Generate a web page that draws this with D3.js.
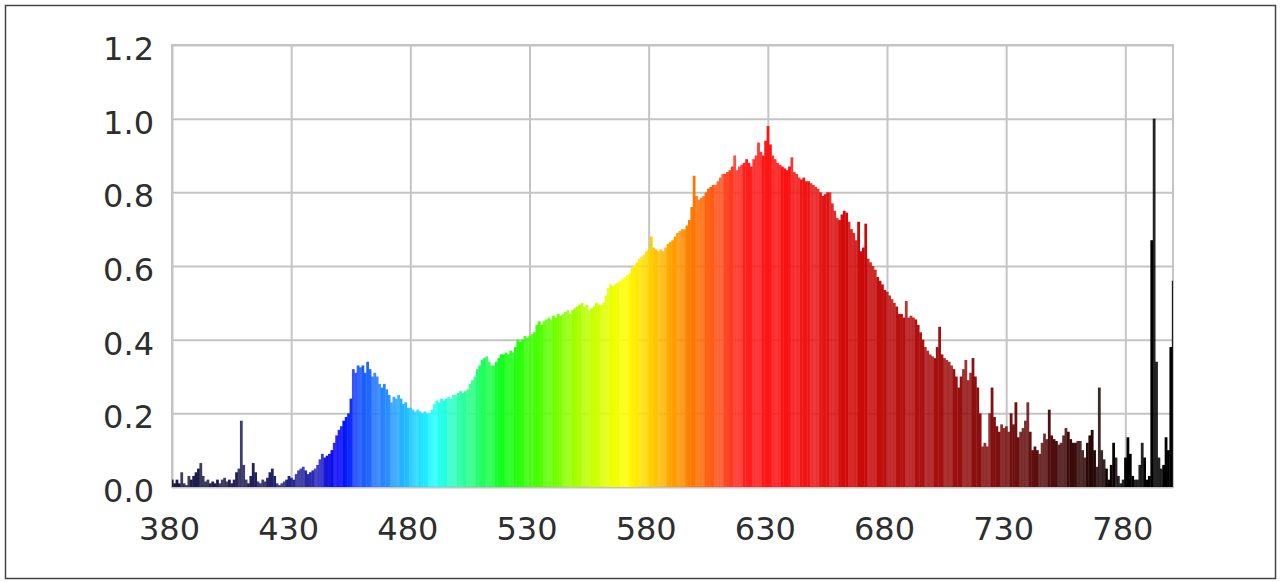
<!DOCTYPE html>
<html>
<head>
<meta charset="utf-8">
<script src="https://cdn.jsdelivr.net/npm/d3@7"></script>
<style>
  body { margin: 0; background: #fff; }
  svg { display: block; }
</style>
</head>
<body>
<svg id="chart" width="1281" height="582"></svg>
<script>
// wavelengths 380..800 nm, one value per nm
var startNm = 380;
var intensity = [
  0.02, 0.01, 0.02, 0.01, 0.04, 0.01, 0.005, 0.03, 0.02, 0.03,
  0.04, 0.05, 0.065, 0.03, 0.015, 0.02, 0.01, 0.015, 0.01, 0.02,
  0.01, 0.02, 0.025, 0.015, 0.02, 0.01, 0.02, 0.04, 0.05, 0.18,
  0.06, 0.02, 0.01, 0.03, 0.065, 0.04, 0.015, 0.01, 0.02, 0.015,
  0.025, 0.04, 0.05, 0.03, 0.01, 0.005, 0.01, 0.015, 0.02, 0.03,
  0.025, 0.02, 0.035, 0.045, 0.05, 0.055, 0.045, 0.035, 0.04, 0.045,
  0.05, 0.06, 0.075, 0.09, 0.08, 0.085, 0.09, 0.1, 0.12, 0.14,
  0.155, 0.165, 0.18, 0.19, 0.2, 0.24, 0.32, 0.31, 0.33, 0.325,
  0.33, 0.31, 0.34, 0.32, 0.30, 0.31, 0.30, 0.28, 0.27, 0.28,
  0.265, 0.25, 0.23, 0.245, 0.24, 0.25, 0.24, 0.225, 0.23, 0.215,
  0.215, 0.21, 0.205, 0.21, 0.205, 0.2, 0.205, 0.2, 0.2, 0.21,
  0.225, 0.235, 0.23, 0.24, 0.235, 0.24, 0.245, 0.24, 0.25, 0.25,
  0.255, 0.26, 0.255, 0.26, 0.265, 0.28, 0.29, 0.3, 0.32, 0.33,
  0.345, 0.35, 0.355, 0.34, 0.33, 0.33, 0.34, 0.35, 0.36, 0.36,
  0.365, 0.36, 0.37, 0.365, 0.38, 0.40, 0.395, 0.40, 0.41, 0.405,
  0.41, 0.415, 0.42, 0.44, 0.45, 0.44, 0.45, 0.455, 0.46, 0.455,
  0.465, 0.46, 0.47, 0.465, 0.47, 0.475, 0.48, 0.47, 0.48, 0.485,
  0.49, 0.495, 0.50, 0.49, 0.495, 0.48, 0.485, 0.49, 0.5, 0.495,
  0.495, 0.5, 0.52, 0.54, 0.55, 0.545, 0.55, 0.555, 0.56, 0.565,
  0.57, 0.575, 0.58, 0.595, 0.6, 0.61, 0.62, 0.625, 0.63, 0.64,
  0.645, 0.68, 0.65, 0.645, 0.64, 0.645, 0.64, 0.65, 0.66, 0.665,
  0.67, 0.68, 0.69, 0.695, 0.70, 0.70, 0.71, 0.725, 0.76, 0.845,
  0.79, 0.78, 0.785, 0.79, 0.8, 0.81, 0.815, 0.82, 0.82, 0.83,
  0.84, 0.85, 0.85, 0.855, 0.86, 0.87, 0.9, 0.86, 0.87, 0.875,
  0.88, 0.89, 0.88, 0.87, 0.89, 0.9, 0.935, 0.91, 0.9, 0.94,
  0.98, 0.93, 0.9, 0.89, 0.88, 0.875, 0.87, 0.865, 0.86, 0.87,
  0.895, 0.855, 0.85, 0.84, 0.835, 0.84, 0.83, 0.83, 0.825, 0.82,
  0.815, 0.81, 0.8, 0.79, 0.795, 0.8, 0.8, 0.77, 0.75, 0.73,
  0.725, 0.74, 0.75, 0.745, 0.72, 0.70, 0.69, 0.67, 0.72, 0.64,
  0.65, 0.715, 0.62, 0.61, 0.60, 0.59, 0.57, 0.56, 0.55, 0.535,
  0.53, 0.52, 0.51, 0.5, 0.49, 0.47, 0.47, 0.46, 0.505, 0.46,
  0.465, 0.46, 0.455, 0.44, 0.42, 0.40, 0.38, 0.37, 0.36, 0.355,
  0.35, 0.38, 0.435, 0.36, 0.35, 0.345, 0.34, 0.33, 0.32, 0.3,
  0.27, 0.3, 0.32, 0.345, 0.29, 0.31, 0.35, 0.3, 0.27, 0.2,
  0.11, 0.12, 0.11, 0.2, 0.27, 0.19, 0.165, 0.15, 0.17, 0.16,
  0.165, 0.15, 0.2, 0.17, 0.23, 0.135, 0.15, 0.16, 0.18, 0.23,
  0.15, 0.10, 0.11, 0.1, 0.09, 0.12, 0.145, 0.13, 0.21, 0.14,
  0.13, 0.125, 0.115, 0.12, 0.14, 0.16, 0.15, 0.13, 0.12, 0.12,
  0.125, 0.125, 0.1, 0.08, 0.12, 0.14, 0.155, 0.1, 0.055, 0.27,
  0.1, 0.075, 0.05, 0.02, 0.06, 0.12, 0.08, 0.03, 0.01, 0.02,
  0.08, 0.135, 0.09, 0.03, 0.02, 0.02, 0.06, 0.12, 0.08, 0.02,
  0.03, 0.67, 1.0, 0.34, 0.08, 0.05, 0.06, 0.135, 0.1, 0.38, 0.56
];
var xTicks = [380, 430, 480, 530, 580, 630, 680, 730, 780];
var yTicks = [0, 0.2, 0.4, 0.6, 0.8, 1.0, 1.2];

// wavelength -> bar colour
var colorNm = [380, 420, 440, 450, 460, 470, 480, 490, 500, 510, 520, 535, 550, 560, 570, 580, 590, 600, 610, 620, 635, 650, 665, 685, 705, 725, 745, 765, 780, 800];
var colorHex = ["#1c1c40", "#202060", "#2a2ab8", "#0000ff", "#1a5cff", "#2a8cff", "#20c8ff", "#20ffff", "#30ffb0", "#20ff60", "#10ff10", "#50ff00", "#a8ff00", "#d8ff00", "#ffff00", "#ffd200", "#ffa000", "#ff7000", "#ff5020", "#ff2020", "#ff1010", "#e81818", "#d00808", "#b81010", "#a01010", "#801010", "#581010", "#2a0808", "#000000", "#000000"];

(function() {
  var data = intensity.map(function(v, i) { return {nm: startNm + i, v: v}; });

  var svg = d3.select("#chart");
  var plotL = 172, plotR = 1173, plotT = 45, plotB = 487;

  var x = d3.scaleLinear().domain([380, 800]).range([plotL, plotR]);
  var y = d3.scaleLinear().domain([0, 1.2]).range([plotB, plotT]);
  var color = d3.scaleLinear().domain(colorNm).range(colorHex);

  // outer frame
  svg.append("rect")
      .attr("x", 5.5).attr("y", 5.5)
      .attr("width", 1270).attr("height", 573)
      .attr("fill", "#fff")
      .attr("stroke", "#444")
      .attr("stroke-width", 1.5);

  // grid + labels
  var xAxis = svg.append("g")
      .attr("transform", "translate(0," + plotB + ")")
      .call(d3.axisBottom(x).tickValues(xTicks).tickSize(-(plotB - plotT)).tickPadding(30).tickFormat(d3.format("d")));
  var yAxis = svg.append("g")
      .attr("transform", "translate(" + plotL + ",0)")
      .call(d3.axisLeft(y).tickValues(yTicks).tickSize(-(plotR - plotL)).tickPadding(18).tickFormat(d3.format(".1f")));

  [xAxis, yAxis].forEach(function(g) {
    g.select(".domain").remove();
    g.selectAll("line").attr("stroke", "#c4c4c4").attr("stroke-width", 2);
    g.selectAll("text")
        .attr("fill", "#2e2e2e")
        .style("font-family", "'DejaVu Sans', Verdana, sans-serif")
        .style("font-size", "32px");
  });
  yAxis.selectAll("text").attr("dy", "0.45em");
  xAxis.selectAll("text").attr("dx", "-3");

  svg.append("rect")
      .attr("x", plotL).attr("y", plotT)
      .attr("width", plotR - plotL).attr("height", plotB - plotT)
      .attr("fill", "none")
      .attr("stroke", "#c4c4c4")
      .attr("stroke-width", 2);

  svg.append("clipPath").attr("id", "plotclip")
    .append("rect")
      .attr("x", plotL).attr("y", plotT)
      .attr("width", plotR - plotL).attr("height", plotB - plotT);

  // spectrum bars, every other 4-nm band a little lighter like the original
  svg.append("g")
      .attr("clip-path", "url(#plotclip)")
    .selectAll("rect")
    .data(data)
    .join("rect")
      .attr("x", function(d) { return x(d.nm - 0.5); })
      .attr("width", function(d) { return x(d.nm + 0.5) - x(d.nm - 0.5) + 0.4; })
      .attr("y", function(d) { return y(d.v); })
      .attr("height", function(d) { return plotB - y(d.v); })
      .attr("fill", function(d) { return color(d.nm); })
      .attr("fill-opacity", function(d, i) { return Math.floor(i / 4) % 2 ? 0.86 : 1; });
})();
</script>
</body>
</html>
